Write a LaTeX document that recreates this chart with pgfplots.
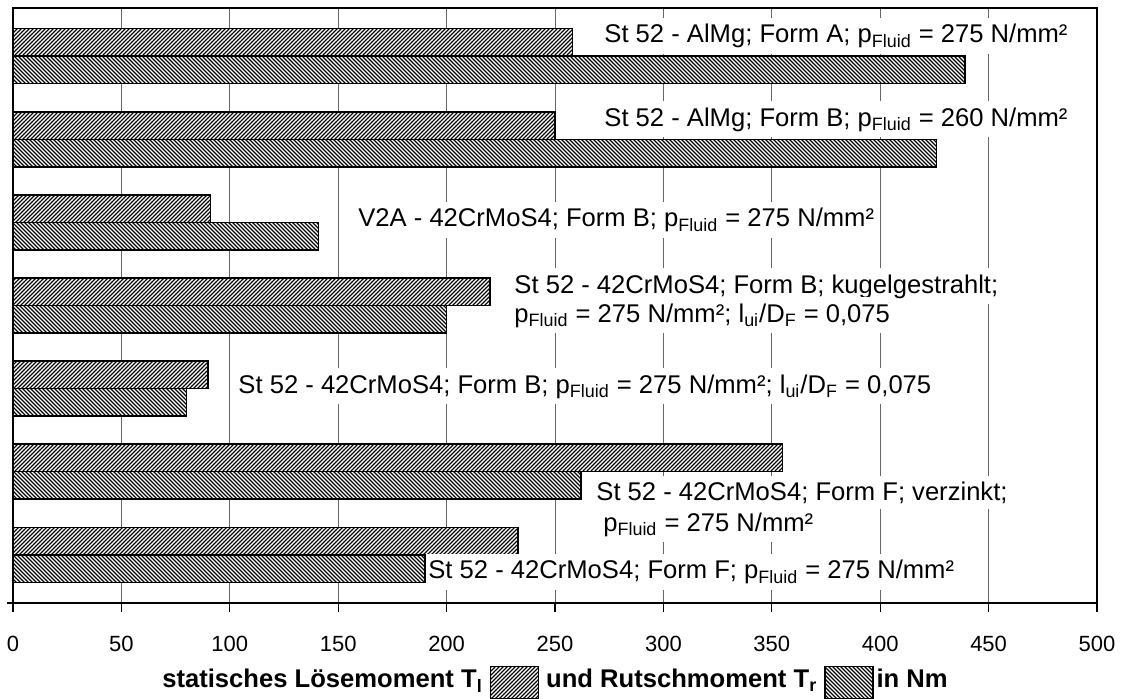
\documentclass[border=0pt]{standalone}
\usepackage{fontspec}
\setmainfont{Liberation Sans}
\usepackage{pgfplots}
\pgfplotsset{compat=1.18}
\usetikzlibrary{patterns.meta}
\tikzset{
  loese/.style={fill=white, postaction={pattern={Lines[angle=45,distance=1.4142pt,line width=0.65pt]}, pattern color=black}},
  rutsch/.style={fill=white, postaction={pattern={Lines[angle=-45,distance=1.4142pt,line width=0.6pt]}, pattern color=black}},
  lbl/.style={fill=white, inner xsep=1pt, inner ysep=3pt, anchor=base west, font=\fontsize{12.8}{15}\selectfont},
}
\begin{document}
\begin{tikzpicture}
\begin{axis}[
  at={(0,0)}, anchor=south west,
  scale only axis, width=542pt, height=297.5pt,
  xmin=0, xmax=500, ymin=0.42, ymax=7.58,
  xtick={0,50,...,500}, ytick=\empty,
  xtick pos=bottom, tick align=outside, major tick length=4.5pt,
  xmajorgrids, grid style={black!60, line width=0.5pt},
  axis line style={black, line width=0.6pt},
  tick style={black, line width=0.6pt},
  xticklabel style={font=\fontsize{11}{13}\selectfont, yshift=-8.5pt},
  /pgf/number format/assume math mode=true,
  xbar, bar width=0.331, bar shift=0pt,
  clip=false,
]
% statisches Lösemoment (upper bar of each group)
\addplot[draw=black, line width=0.75pt, loese] coordinates {
  (258,7.1655) (250,6.1655) (91,5.1655) (220,4.1655) (90,3.1655) (355,2.1655) (233,1.1655)};
% Rutschmoment (lower bar of each group)
\addplot[draw=black, line width=0.75pt, rutsch] coordinates {
  (439,6.8345) (426,5.8345) (141,4.8345) (200,3.8345) (80,2.8345) (262,1.8345) (190,0.8345)};

\node[lbl] at (axis cs:271.7,7.159) {St 52 - AlMg; Form A; p\textsubscript{Fluid} = 275 N/mm²};
\node[lbl] at (axis cs:271.7,6.160) {St 52 - AlMg; Form B; p\textsubscript{Fluid} = 260 N/mm²};
\node[lbl] at (axis cs:158.2,4.945) {V2A - 42CrMoS4; Form B; p\textsubscript{Fluid} = 275 N/mm²};
\node[lbl] at (axis cs:230.2,4.150) {St 52 - 42CrMoS4; Form B; kugelgestrahlt;};
\node[lbl] at (axis cs:230.2,3.801) {p\textsubscript{Fluid} = 275 N/mm²; l\textsubscript{ui}/D\textsubscript{F} = 0,075};
\node[lbl] at (axis cs:102.9,2.947) {St 52 - 42CrMoS4; Form B; p\textsubscript{Fluid} = 275 N/mm²; l\textsubscript{ui}/D\textsubscript{F} = 0,075};
\node[lbl] at (axis cs:268.0,1.659) {St 52 - 42CrMoS4; Form F; verzinkt;};
\node[lbl] at (axis cs:271.2,1.286) {p\textsubscript{Fluid} = 275 N/mm²};
\node[lbl] at (axis cs:190.5,0.709) {St 52 - 42CrMoS4; Form F; p\textsubscript{Fluid} = 275 N/mm²};
\end{axis}
\draw[line width=1pt] (-3pt,0) -- (542pt,0);
\node[font=\bfseries\fontsize{12.8}{15}\selectfont, anchor=base, inner sep=0pt] at (271pt,-42.25pt)
  {statisches Lösemoment T\textsubscript{l} \tikz[baseline]\draw[line width=0.6pt,loese] (0,-5.5pt) rectangle (24pt,10.5pt); und Rutschmoment T\textsubscript{r} \tikz[baseline]\draw[line width=0.6pt,rutsch] (0,-5.5pt) rectangle (24pt,10.5pt);\hspace{1.5pt}in Nm};
\pgfresetboundingbox
\path[use as bounding box] (-6.5pt,-47.5pt) rectangle (554.5pt,301.5pt);
\end{tikzpicture}
\end{document}
